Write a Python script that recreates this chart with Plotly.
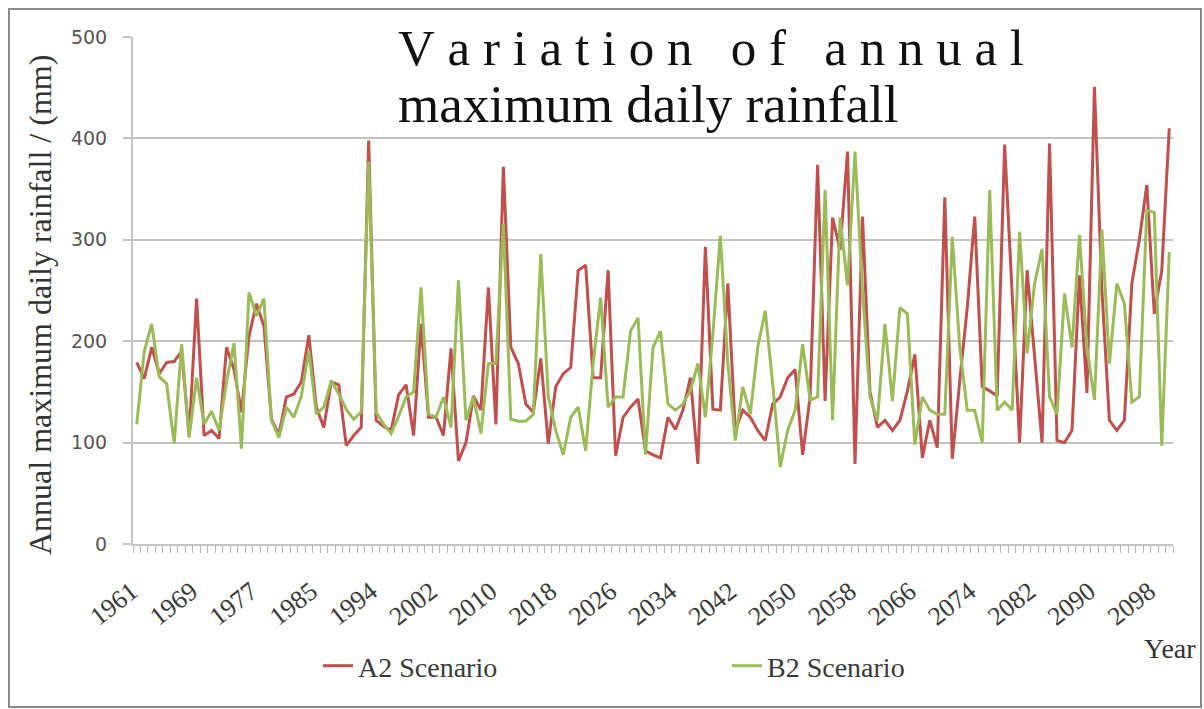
import plotly.graph_objects as go

# Simulation years (one year absent from the series between 1986 and 1993)
years = list(range(1961, 1990)) + list(range(1991, 2101))

# Annual maximum daily rainfall (mm)
a2_scenario = [
    179, 163, 194, 168, 179, 180, 190, 107, 242, 107,
    112, 104, 194, 172, 130, 205, 237, 215, 123, 108,
    145, 148, 160, 206, 135, 115, 160, 157, 97, 107,
    115, 398, 122, 116, 112, 147, 157, 107, 217, 125,
    125, 107, 193, 82, 100, 146, 132, 253, 118, 372,
    194, 178, 138, 130, 183, 99, 155, 168, 174, 270,
    275, 164, 164, 270, 87, 125, 135, 143, 92, 88,
    85, 125, 113, 132, 164, 79, 293, 133, 132, 257,
    112, 132, 125, 112, 102, 138, 145, 164, 172, 88,
    145, 374, 141, 322, 290, 387, 79, 323, 150, 115,
    122, 112, 122, 151, 187, 85, 122, 95, 342, 84,
    161, 233, 323, 155, 151, 146, 394, 240, 100, 270,
    185, 100, 395, 102, 100, 112, 265, 149, 451, 250,
    122, 112, 122, 257, 300, 354, 227, 270, 410,
]
b2_scenario = [
    118, 190, 217, 165, 158, 99, 197, 105, 164, 118,
    131, 112, 160, 198, 94, 248, 225, 242, 122, 105,
    135, 125, 146, 191, 128, 135, 161, 148, 133, 123,
    130, 377, 130, 118, 109, 126, 145, 150, 253, 128,
    125, 145, 115, 260, 122, 145, 109, 178, 178, 316,
    123, 121, 121, 128, 286, 146, 112, 88, 125, 135,
    92, 178, 243, 135, 145, 145, 210, 223, 88, 194,
    210, 138, 132, 138, 151, 178, 125, 207, 304, 178,
    102, 155, 128, 194, 230, 158, 76, 112, 132, 197,
    142, 145, 349, 122, 322, 255, 387, 250, 145, 122,
    217, 141, 233, 227, 98, 145, 132, 128, 128, 303,
    194, 132, 132, 100, 349, 132, 140, 132, 308, 188,
    257, 291, 145, 128, 247, 194, 305, 194, 142, 310,
    178, 257, 237, 140, 145, 329, 327, 97, 288,
]

# Every eighth year is labelled on the axis
label_years = [1961, 1969, 1977, 1985, 1994, 2002, 2010, 2018, 2026,
               2034, 2042, 2050, 2058, 2066, 2074, 2082, 2090, 2098]

positions = list(range(len(years)))
tick_positions = [years.index(y) for y in label_years]
nb = "\u00a0"
tick_text = [str(y) + nb for y in label_years]

RED = "#c0504d"
GREEN = "#9bbb59"
GRID = "#c4c4c4"
SERIF = "Liberation Serif"

fig = go.Figure()
fig.add_trace(go.Scatter(
    x=positions, y=a2_scenario, mode="lines", name="A2 Scenario",
    line=dict(color=RED, width=3),
    customdata=years, hovertemplate="%{customdata}: %{y} mm<extra>A2</extra>",
))
fig.add_trace(go.Scatter(
    x=positions, y=b2_scenario, mode="lines", name="B2 Scenario",
    line=dict(color=GREEN, width=3),
    customdata=years, hovertemplate="%{customdata}: %{y} mm<extra>B2</extra>",
))

W, H = 1204, 709
L, R, T, B = 133, 31, 37, 165
pw, ph = W - L - R, H - T - B


def px(x):
    return (x - L) / pw


def py(y):
    return (H - B - y) / ph


fig.update_layout(
    width=W, height=H,
    margin=dict(l=L, r=R, t=T, b=B, pad=0),
    paper_bgcolor="white", plot_bgcolor="white",
    showlegend=True,
    legend=dict(
        orientation="h", xanchor="left", yanchor="middle",
        x=px(318), y=py(666),
        entrywidth=364, entrywidthmode="pixels",
        font=dict(family=SERIF, size=28, color="#3a3a3a"),
        bgcolor="rgba(0,0,0,0)",
    ),
    xaxis=dict(
        range=[-0.5, len(years) - 0.5],
        tickmode="array", tickvals=tick_positions, ticktext=tick_text,
        tickangle=-38, ticks="", showgrid=False, zeroline=False,
        showline=True, linecolor=GRID, linewidth=2,
        ticklabelstandoff=16,
        tickfont=dict(family=SERIF, size=26, color="#3a3a3a"),
        minor=dict(tickmode="linear", tick0=0.5, dtick=1, ticks="outside",
                   ticklen=7, tickwidth=1, tickcolor="#b5b5b5", showgrid=False),
    ),
    yaxis=dict(
        range=[0, 500], tickmode="linear", tick0=0, dtick=100,
        showgrid=True, gridcolor=GRID, gridwidth=2, zeroline=False,
        showline=True, linecolor=GRID, linewidth=2,
        ticks="outside", ticklen=8, tickwidth=2, tickcolor=GRID,
        ticklabelstandoff=12,
        tickfont=dict(family="DejaVu Sans", size=19, color="#555555"),
    ),
)

word_gap = nb * 3
title_line1 = nb.join("Variation") + word_gap + nb.join("of") + word_gap + nb.join("annual")

annotations = [
    dict(text=title_line1, x=px(396), y=py(48), xanchor="left", yanchor="middle",
         font=dict(family=SERIF, size=51, color="#111111")),
    dict(text="maximum daily rainfall", x=px(396), y=py(104), xanchor="left", yanchor="middle",
         font=dict(family=SERIF, size=53, color="#111111")),
    dict(text="Annual maximum daily rainfall / (mm)", x=px(40), y=py(305),
         xanchor="center", yanchor="middle", textangle=-90,
         font=dict(family=SERIF, size=32, color="#333333")),
    dict(text="Year", x=px(1142), y=py(648), xanchor="left", yanchor="middle",
         font=dict(family=SERIF, size=28, color="#333333")),
]
for a in annotations:
    a.update(xref="paper", yref="paper", showarrow=False)
fig.update_layout(annotations=annotations)

# Outer frame around the whole figure
fig.add_shape(type="rect", xref="paper", yref="paper",
              x0=px(9), x1=px(1201), y0=py(707), y1=py(9),
              line=dict(color="#8a8a8a", width=2), fillcolor="rgba(0,0,0,0)",
              layer="below")

fig.write_html("out.html")
